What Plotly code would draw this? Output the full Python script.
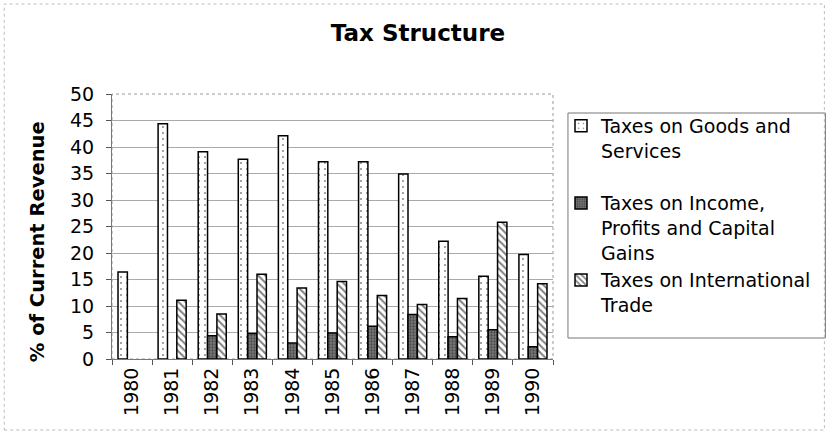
import plotly.graph_objects as go

years = ["1980", "1981", "1982", "1983", "1984", "1985", "1986", "1987", "1988", "1989", "1990"]
goods = [16.4, 44.4, 39.1, 37.7, 42.1, 37.2, 37.2, 34.9, 22.2, 15.6, 19.7]
income = [None, None, 4.4, 4.8, 3.0, 4.9, 6.2, 8.4, 4.2, 5.5, 2.3]
trade = [None, 11.1, 8.5, 16.0, 13.4, 14.6, 12.0, 10.3, 11.4, 25.8, 14.2]
y_ticks = [0, 5, 10, 15, 20, 25, 30, 35, 40, 45, 50]

names = ["Taxes on Goods and<br>Services<br> ",
         "Taxes on Income,<br>Profits and Capital<br>Gains",
         "Taxes on International<br>Trade"]

FONT = "DejaVu Sans"

# plot area in pixels
PL, PR, PT, PB = 112, 554, 94, 359
W, H = 828, 431
PW, PH = PR - PL, PB - PT


def px(x):
    return (x - PL) / PW


def py(y):
    return (PB - y) / PH


fig = go.Figure()
fig.add_trace(go.Bar(
    x=years, y=goods, name=names[0],
    marker=dict(color="white", line=dict(color="black", width=1.5),
                pattern=dict(shape=".", fgcolor="black", bgcolor="white", size=6, solidity=0.08)),
))
fig.add_trace(go.Bar(
    x=years, y=income, name=names[1],
    marker=dict(color="#5a5a5a", line=dict(color="black", width=1.5),
                pattern=dict(shape=".", fgcolor="#1a1a1a", bgcolor="#7a7a7a", size=3, solidity=0.45)),
))
fig.add_trace(go.Bar(
    x=years, y=trade, name=names[2],
    marker=dict(color="white", line=dict(color="black", width=1.5),
                pattern=dict(shape="\\", fgcolor="black", bgcolor="white", size=5, solidity=0.4)),
))

fig.update_layout(
    width=W, height=H,
    margin=dict(l=PL, r=W - PR, t=PT, b=H - PB),
    paper_bgcolor="white", plot_bgcolor="white",
    barmode="group", bargap=0.3, bargroupgap=0,
    font=dict(family=FONT, color="black", size=19),
    title=dict(text="<b>Tax Structure</b>", x=418 / W, xanchor="center", y=1 - 33 / H, yanchor="middle",
               font=dict(family=FONT, size=23, color="black")),
    showlegend=True,
    legend=dict(x=px(561), xanchor="left", y=py(107), yanchor="top", valign="top",
                bgcolor="rgba(0,0,0,0)", borderwidth=0, itemwidth=30,
                font=dict(family=FONT, size=19, color="black"), traceorder="normal"),
    xaxis=dict(type="category", tickangle=-90, ticks="outside", tickson="boundaries", ticklen=5,
               tickcolor="#555", showline=True, linecolor="#777", linewidth=1,
               tickfont=dict(family=FONT, size=19), showgrid=False),
    yaxis=dict(range=[0, 50], tickvals=y_ticks, ticks="outside", ticklen=5, tickcolor="#555",
               showline=True, linecolor="#777", linewidth=1, showgrid=True, gridcolor="#aaaaaa",
               gridwidth=1, tickfont=dict(family=FONT, size=19), zeroline=False,
               ticklabelstandoff=8),
    shapes=[
        dict(type="rect", xref="paper", yref="paper", x0=0, x1=1, y0=0, y1=1,
             line=dict(color="#999", width=1, dash="dot"), layer="below"),
        dict(type="rect", xref="paper", yref="paper", x0=px(569), x1=px(827),
             y0=py(338), y1=py(113), line=dict(color="#777", width=1)),
        dict(type="rect", xref="paper", yref="paper", x0=px(4), x1=px(826),
             y0=py(430), y1=py(4), line=dict(color="#bbb", width=1, dash="dot")),
    ],
    annotations=[
        dict(text="<b>% of Current Revenue</b>", xref="paper", yref="paper",
             x=px(37), y=py(242), textangle=-90, showarrow=False,
             xanchor="center", yanchor="middle", font=dict(family=FONT, size=19.5, color="black")),
    ],
)

fig.write_html("out.html", config={"displayModeBar": False},
               post_script="document.body.style.margin='0';")
